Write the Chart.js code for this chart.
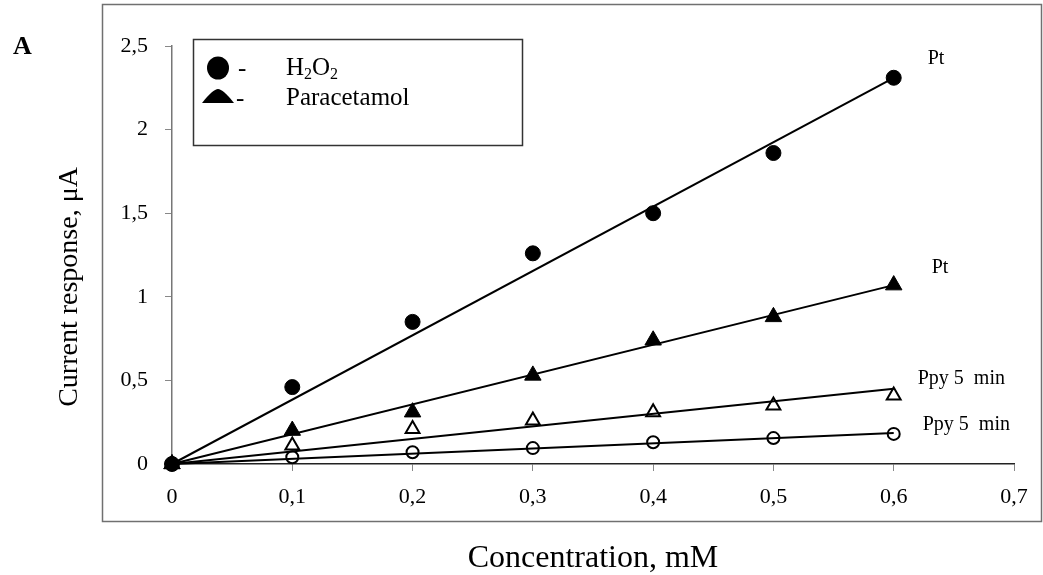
<!DOCTYPE html>
<html><head><meta charset="utf-8">
<script src="https://cdn.jsdelivr.net/npm/chart.js@4.4.1/dist/chart.umd.min.js"></script>
<style>html,body{margin:0;padding:0;background:#fff;} #wrap{width:1043px;height:575px;position:relative;}</style>
</head><body><div id="wrap"><canvas id="c" width="1043" height="575"></canvas></div>
<script>
const concentrations = [0, 0.1, 0.2, 0.3, 0.4, 0.5, 0.6];
const h2o2Pt = [0, 0.46, 0.85, 1.26, 1.50, 1.86, 2.31];
const paracetamolPt = [0, 0.20, 0.31, 0.53, 0.74, 0.88, 1.07];
const paracetamolPpy = [0, 0.11, 0.21, 0.26, 0.31, 0.35, 0.41];
const h2o2Ppy = [0, 0.04, 0.07, 0.095, 0.13, 0.155, 0.18];
const fitX = [0, 0.6];
const fitH2o2Pt = [0, 2.31];
const fitParaPt = [0, 1.07];
const fitParaPpy = [0, 0.45];
const fitH2o2Ppy = [0, 0.185];
const xTickLabels = ['0','0,1','0,2','0,3','0,4','0,5','0,6','0,7'];
const yTickLabels = ['0','0,5','1','1,5','2','2,5'];
const curveLabels = ['Pt','Pt','Ppy 5  min','Ppy 5  min'];
const legendLabels = ['H2O2','Paracetamol'];
const xTitle = 'Concentration, mM';
const yTitle = 'Current response, \u03bcA';

const SERIF = '"Liberation Serif", "Times New Roman", serif';
const toPts = (xs, ys) => xs.map((x, i) => ({x: x, y: ys[i]}));

function fitSet(ys){
  return {type:'line', data: toPts(fitX, ys), showLine:true, borderColor:'#000', borderWidth:2,
    pointRadius:0, pointHoverRadius:0, fill:false, clip:false, order:2};
}
function pointSet(ys, style, filled, r){
  return {type:'scatter', data: toPts(concentrations, ys), showLine:false, pointStyle:style,
    pointRadius:r, pointHoverRadius:r, borderColor:'#000', borderWidth: filled?1:2,
    backgroundColor: filled?'#000':'rgba(0,0,0,0)', clip:false, order:1};
}

const decor = {
  id:'decor',
  beforeDraw(chart){
    const ctx = chart.ctx;
    ctx.save();
    ctx.fillStyle = '#fff';
    ctx.fillRect(0,0,chart.width,chart.height);
    ctx.strokeStyle = '#707070'; ctx.lineWidth = 1.5;
    ctx.strokeRect(102.5, 4.5, 939, 517);
    ctx.restore();
  },
  afterDraw(chart){
    const ctx = chart.ctx, xs = chart.scales.x, ys = chart.scales.y;
    ctx.save();
    ctx.fillStyle = '#000';
    ctx.textAlign = 'left'; ctx.textBaseline = 'alphabetic';
    ctx.font = 'bold 26px ' + SERIF;
    ctx.fillText('A', 13, 54);

    // y title
    ctx.save();
    ctx.translate(77, 287); ctx.rotate(-Math.PI/2);
    ctx.font = '28px ' + SERIF; ctx.textAlign = 'center';
    ctx.fillText(yTitle, 0, 0);
    ctx.restore();

    // legend box
    ctx.strokeStyle = '#333'; ctx.lineWidth = 1.5;
    ctx.strokeRect(193.5, 39.5, 329, 106);
    ctx.beginPath(); ctx.ellipse(218, 68, 11, 11.5, 0, 0, Math.PI*2); ctx.fill();
    ctx.beginPath();
    ctx.moveTo(202, 103); ctx.lineTo(234, 103);
    ctx.quadraticCurveTo(223, 89, 218, 89);
    ctx.quadraticCurveTo(213, 89, 202, 103);
    ctx.closePath(); ctx.fill();
    ctx.font = '25px ' + SERIF;
    ctx.fillText('-', 238, 76);
    ctx.fillText('-', 236, 106);
    // H2O2 with subscripts
    let x = 286;
    const sub = '16px ' + SERIF, big = '25px ' + SERIF;
    const parts = [['H',big,0],['2',sub,4],['O',big,0],['2',sub,4]];
    parts.forEach(p => { ctx.font = p[1]; ctx.fillText(p[0], x, 75 + p[2]); x += ctx.measureText(p[0]).width; });
    ctx.font = big;
    ctx.fillText(legendLabels[1], 286, 105);

    // curve labels anchored to fit line ends
    ctx.font = '20px ' + SERIF; ctx.textBaseline = 'middle';
    const ends = [fitH2o2Pt, fitParaPt, fitParaPpy, fitH2o2Ppy];
    const offs = [[34,-19],[38,-17],[24,-10],[29,-8]];
    ends.forEach((e, i) => {
      const px = xs.getPixelForValue(fitX[1]), py = ys.getPixelForValue(e[1]);
      ctx.fillText(curveLabels[i], px + offs[i][0], py + offs[i][1]);
    });
    ctx.restore();
  }
};

new Chart(document.getElementById('c'), {
  type:'scatter',
  data:{ datasets:[
    fitSet(fitH2o2Pt), fitSet(fitParaPt), fitSet(fitParaPpy), fitSet(fitH2o2Ppy),
    pointSet(h2o2Pt,'circle',true,7.5),
    pointSet(paracetamolPt,'triangle',true,9.5),
    pointSet(paracetamolPpy,'triangle',false,8),
    pointSet(h2o2Ppy,'circle',false,6)
  ]},
  options:{
    responsive:false, animation:false, devicePixelRatio:1,
    layout:{padding:{left:0, top:46, right:29, bottom:0}},
    plugins:{legend:{display:false}, tooltip:{enabled:false}},
    scales:{
      x:{type:'linear', min:0, max:0.7,
        afterFit(s){ s.height = 111; },
        ticks:{stepSize:0.1, color:'#000', padding:13, font:{family:SERIF, size:22},
          callback:(v,i)=>xTickLabels[i]},
        grid:{drawOnChartArea:false, tickLength:7, color:'#888'},
        border:{display:true, color:'#222', width:1.5},
        title:{display:true, text:xTitle, color:'#000', font:{family:SERIF, size:32, lineHeight:1}, padding:{top:0,bottom:0}}
      },
      y:{type:'linear', min:0, max:2.5,
        afterFit(s){ s.width = 172; },
        ticks:{stepSize:0.5, color:'#000', padding:17, font:{family:SERIF, size:22},
          callback:(v,i)=>yTickLabels[i]},
        grid:{drawOnChartArea:false, tickLength:7, color:'#888'},
        border:{display:true, color:'#777', width:1.5}
      }
    }
  },
  plugins:[decor]
});
</script></body></html>
